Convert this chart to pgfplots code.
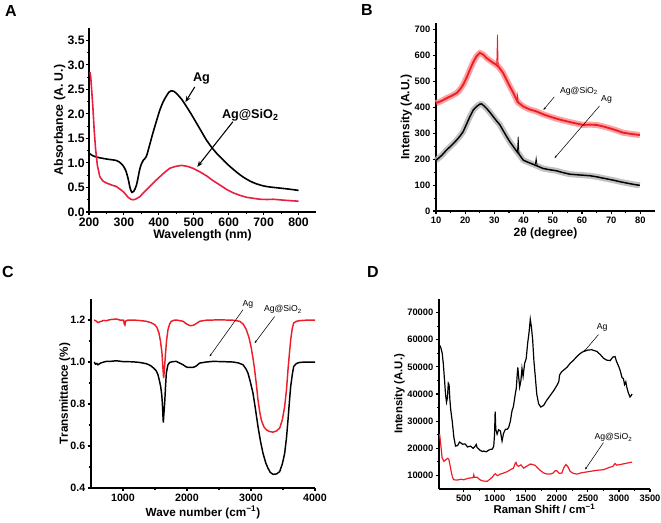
\documentclass[border=0pt]{standalone}
\usepackage{fontspec}
\setmainfont{Liberation Sans}
\usepackage{pgfplots}
\pgfplotsset{compat=1.18}
\usetikzlibrary{arrows.meta}
\definecolor{redA}{RGB}{232,32,64}
\definecolor{redB}{RGB}{238,30,40}
\pgfplotsset{
  panel/.style={
    scale only axis,
    axis x line*=bottom, axis y line*=left,
    axis line style={line width=1pt,-},
    tick align=outside,
    major tick length=2.6pt, minor tick length=1.6pt,
    tick style={line width=0.8pt,black},
    minor x tick num=1, minor y tick num=1,
    enlargelimits=false, clip=false,
    scaled x ticks=false, scaled y ticks=false,
    /pgf/number format/assume math mode=true,
    /pgf/number format/1000 sep={},
    every tick label/.append style={inner sep=1.5pt},
  },
}
\newcommand{\fs}[1]{\fontsize{#1}{#1}\selectfont}
\begin{document}
\begin{tikzpicture}
\path[use as bounding box] (0,0) rectangle (495.75pt,-391.5pt);
% ---------------- A
\begin{axis}[panel, at={(66.75pt,-159pt)}, anchor=south west,
  width=170.25pt, height=138pt,
  xmin=200, xmax=850, ymin=0, ymax=3.75,
  xtick={200,300,...,800}, ytick={0,0.5,1,1.5,2,2.5,3,3.5},
  yticklabel style={inner sep=0.5pt,/pgf/number format/fixed,/pgf/number format/fixed zerofill,/pgf/number format/precision=1},
  ticklabel style={font=\bfseries\fs{9.2pt}},
  label style={font=\bfseries\fs{9.2pt}},
  xlabel={Wavelength (nm)}, ylabel={Absorbance (A. U.)},
  xlabel style={yshift=3pt}, ylabel style={yshift=-2.5pt}]
\addplot[black, line width=1.2pt, smooth] coordinates {
(200,1.20)(210,1.15)(221,1.12)(250,1.08)(278,1.05)(290,1.00)(297,0.95)(305,0.85)(312,0.68)(318,0.48)(323,0.40)(328,0.42)(336,0.55)(345,0.86)(350,0.98)(355,1.05)(364,1.13)(373,1.35)(383,1.61)(393,1.85)(403,2.08)(412,2.24)(422,2.37)(430,2.45)(436,2.47)(443,2.46)(450,2.42)(465,2.30)(479,2.15)(494,1.98)(508,1.81)(522,1.64)(536,1.47)(550,1.33)(565,1.20)(580,1.09)(594,0.99)(613,0.87)(632,0.76)(651,0.67)(670,0.60)(690,0.55)(708,0.52)(730,0.50)(756,0.48)(780,0.46)(800,0.44)};
\addplot[redA, line width=1.2pt] coordinates {
(203,2.85)(205,2.75)(208,2.45)(211,2.15)(215,1.65)(219,1.27)(224,0.95)(231,0.72)(240,0.63)(250,0.59)(265,0.55)(278,0.52)(290,0.46)(297,0.42)(305,0.36)(312,0.30)(320,0.26)(326,0.25)(333,0.26)(345,0.31)(360,0.42)(374,0.52)(388,0.62)(403,0.72)(417,0.81)(431,0.89)(448,0.93)(465,0.95)(482,0.93)(498,0.89)(517,0.82)(536,0.74)(555,0.64)(575,0.55)(594,0.46)(613,0.39)(632,0.34)(651,0.30)(670,0.28)(689,0.26)(710,0.255)(727,0.26)(760,0.24)(800,0.22)};
\node[font=\bfseries\fs{9.5pt}] at (axis cs:522,2.72) {Ag};
\draw[-{Stealth[length=4.5pt,width=3.5pt]}, line width=0.8pt] (axis cs:503,2.55) -- (axis cs:476,2.24);
\node[font=\bfseries\fs{9.5pt}] at (axis cs:662,1.98) {Ag@SiO\textsubscript{2}};
\draw[-{Stealth[length=4.5pt,width=3.5pt]}, line width=0.8pt] (axis cs:612,1.84) -- (axis cs:510,0.92);
\end{axis}
% ---------------- B
\begin{axis}[panel, at={(327pt,-158.25pt)}, anchor=south west,
  width=164.25pt, height=141pt,
  xmin=10, xmax=85, ymin=0, ymax=725,
  xtick={10,20,...,80}, ytick={0,100,...,700},
  ticklabel style={font=\bfseries\fs{7pt}},
  label style={font=\bfseries\fs{9pt}},
  xlabel={2θ (degree)}, ylabel={Intensity (A.U.)},
  xlabel style={yshift=2pt}, ylabel style={yshift=-3pt}]
\addplot[red!45, line width=4.5pt, opacity=0.8, line join=round] table {
x y
10 416
12 425
13.6 435
15.5 445
17.1 455
18.3 470
19.3 487
20.5 515
21.6 545
22.8 575
23.9 597
25.0 610
26.2 603
27.3 590
28.5 580
29.6 571
30.5 565
31.5 555
33.0 532
34.2 505
35.3 480
36.5 455
37.6 429
38.0 420
39.9 403
42 392
44.4 384
46.7 373
49.0 364
51.3 356
53.6 349
57 340
60.4 332
62.7 333
65.0 332
67.3 326
69.5 319
71.8 311
74.1 302
77 297
79.8 293
};
\addplot[redB, line width=1.4pt] table {
x y
10 416
12 425
13.6 435
15.5 445
17.1 455
18.3 470
19.3 487
20.5 515
21.6 545
22.8 575
23.9 597
25.0 610
26.2 603
27.3 590
28.5 580
29.6 571
30.5 565
31.5 555
33.0 532
34.2 505
35.3 480
36.5 455
37.6 429
38.0 420
39.9 403
42 392
44.4 384
46.7 373
49.0 364
51.3 356
53.6 349
57 340
60.4 332
62.7 333
65.0 332
67.3 326
69.5 319
71.8 311
74.1 302
77 297
79.8 293
};
\addplot[redB, line width=0.6pt] coordinates {(30.8,562)(31.05,680)(31.3,558)};
\addplot[redB, line width=0.6pt] coordinates {(37.7,428)(37.9,445)(38.1,420)};
\addplot[gray!60, line width=4.5pt, opacity=0.8, line join=round] table {
x y
10 195
12 215
13.6 235
15.5 255
17.1 274
18.3 290
19.3 306
20.5 336
21.6 364
22.8 390
23.9 403
25.0 412
25.6 413
26.5 405
27.3 396
28.5 380
29.6 364
30.7 348
31.9 332
33.0 310
34.2 287
35.3 267
36.5 248
37.5 232
38.5 218
39.9 196
41.5 188
43.3 180
45 172
46.7 164
49 159
51.3 155
53.5 148
55.8 142
58 140
60.4 138
62.7 136
65.0 132
67.5 126
70.7 119
73 113
75.2 108
77.5 103
79.8 99
};
\addplot[black, line width=1.1pt] table {
x y
10 195
12 215
13.6 235
15.5 255
17.1 274
18.3 290
19.3 306
20.5 336
21.6 364
22.8 390
23.9 403
25.0 412
25.6 413
26.5 405
27.3 396
28.5 380
29.6 364
30.7 348
31.9 332
33.0 310
34.2 287
35.3 267
36.5 248
37.5 232
38.5 218
39.9 196
41.5 188
43.3 180
45 172
46.7 164
49 159
51.3 155
53.5 148
55.8 142
58 140
60.4 138
62.7 136
65.0 132
67.5 126
70.7 119
73 113
75.2 108
77.5 103
79.8 99
};
\addplot[black, line width=0.6pt] coordinates {(37.9,228)(38.15,287)(38.4,220)};
\addplot[black, line width=0.6pt] coordinates {(44.0,180)(44.3,203)(44.6,176)};
\node[font=\fs{6.5pt}] at (axis cs:59,462) {Ag@SiO\textsubscript{2}};
\draw[-{Stealth[length=2pt,width=1.6pt]}, line width=0.4pt] (axis cs:50.5,440) -- (axis cs:46.8,390);
\node[font=\fs{6.5pt}] at (axis cs:68.4,432) {Ag};
\draw[-{Stealth[length=2pt,width=1.6pt]}, line width=0.4pt] (axis cs:66,405) -- (axis cs:50.6,204);
\end{axis}
% ---------------- C
\begin{axis}[panel, at={(68.25pt,-366pt)}, anchor=south west,
  width=168pt, height=141.75pt,
  xmin=500, xmax=4000, ymin=0.4, ymax=1.3,
  xtick={1000,2000,3000,4000}, ytick={0.4,0.6,0.8,1.0,1.2},
  yticklabel style={/pgf/number format/fixed,/pgf/number format/fixed zerofill,/pgf/number format/precision=1},
  ticklabel style={font=\bfseries\fs{8pt}},
  label style={font=\bfseries\fs{8.8pt}},
  xlabel={Wave number (cm\textsuperscript{−1})}, ylabel={Transmittance (\%)},
  xlabel style={yshift=2pt}, ylabel style={yshift=-5pt}]
\addplot[redB, line width=1.1pt] coordinates {
(550,1.200)(580,1.195)(609,1.188)(640,1.192)(700,1.198)(740,1.197)(800,1.202)(896,1.205)(950,1.200)(1010,1.199)(1020,1.180)(1030,1.176)(1040,1.195)(1080,1.200)(1156,1.200)(1250,1.198)(1365,1.194)(1440,1.187)(1495,1.178)(1530,1.165)(1562,1.138)(1585,1.100)(1609,1.043)(1622,0.98)(1635,0.923)(1648,0.97)(1661,1.027)(1680,1.10)(1703,1.154)(1730,1.182)(1755,1.194)(1800,1.199)(1833,1.200)(1938,1.194)(1990,1.182)(2050,1.173)(2100,1.175)(2150,1.184)(2198,1.194)(2300,1.199)(2406,1.200)(2500,1.201)(2615,1.200)(2720,1.199)(2823,1.194)(2880,1.180)(2927,1.154)(2970,1.115)(3005,1.066)(3035,1.010)(3057,0.963)(3085,0.89)(3109,0.82)(3135,0.765)(3161,0.724)(3200,0.692)(3240,0.677)(3290,0.669)(3344,0.666)(3400,0.672)(3448,0.685)(3490,0.725)(3526,0.788)(3555,0.87)(3578,0.963)(3600,1.04)(3620,1.106)(3645,1.16)(3667,1.186)(3710,1.194)(3760,1.197)(3850,1.199)(4000,1.200)};
\addplot[black, line width=1.1pt] coordinates {
(550,1.000)(570,0.990)(590,0.993)(609,0.987)(650,0.995)(700,1.000)(740,1.003)(800,1.003)(896,1.006)(1000,1.002)(1156,1.001)(1260,0.998)(1365,0.992)(1430,0.983)(1479,0.971)(1520,0.958)(1547,0.939)(1570,0.910)(1589,0.883)(1605,0.845)(1615,0.804)(1623,0.75)(1630,0.712)(1638,0.75)(1651,0.804)(1664,0.88)(1677,0.947)(1700,0.985)(1729,0.998)(1780,1.002)(1833,1.003)(1938,0.987)(1980,0.978)(2016,0.974)(2100,0.975)(2140,0.980)(2198,0.995)(2300,1.000)(2406,1.003)(2550,1.002)(2719,1.000)(2800,0.996)(2875,0.987)(2920,0.968)(2953,0.947)(2990,0.905)(3031,0.852)(3070,0.775)(3109,0.693)(3150,0.62)(3188,0.565)(3230,0.52)(3266,0.494)(3300,0.475)(3344,0.465)(3400,0.467)(3448,0.478)(3490,0.515)(3526,0.565)(3555,0.64)(3578,0.724)(3600,0.81)(3620,0.883)(3645,0.94)(3667,0.979)(3710,0.993)(3760,0.998)(3850,1.000)(4000,1.000)};
\node[font=\fs{6.5pt}] at (axis cs:2950,1.273) {Ag};
\draw[-{Stealth[length=2pt,width=1.6pt]}, line width=0.4pt] (axis cs:2875,1.249) -- (axis cs:2354,1.027);
\node[font=\fs{6.5pt}] at (axis cs:3500,1.249) {Ag@SiO\textsubscript{2}};
\draw[-{Stealth[length=2pt,width=1.6pt]}, line width=0.4pt] (axis cs:3370,1.217) -- (axis cs:3057,1.09);
\end{axis}
% ---------------- D
\begin{axis}[panel, at={(329.25pt,-366.75pt)}, anchor=south west,
  width=158.25pt, height=142.5pt,
  xmin=100, xmax=3500, ymin=5000, ymax=75000,
  xtick={500,1000,...,3500}, ytick={10000,20000,...,70000},
  ticklabel style={font=\bfseries\fs{7pt}},
  label style={font=\bfseries\fs{8.5pt}},
  xlabel={Raman Shift / cm\textsuperscript{−1}}, ylabel={Intensity (A.U.)},
  xlabel style={yshift=3pt}, ylabel style={yshift=-3pt}]
\addplot[black, line width=0.9pt] coordinates {
(110,58000)(130,57000)(152,55000)(170,51000)(189,45100)(205,40000)(221,37000)(235,38500)(250,44000)(262,43500)(275,38000)(290,34000)(312,30200)(340,24000)(366,20800)(400,21000)(430,22300)(446,22100)(480,21500)(520,21600)(560,20500)(607,20800)(650,20000)(680,20700)(700,21400)(714,20300)(760,19300)(800,18800)(821,19000)(860,18700)(900,19300)(928,19600)(960,19700)(982,20800)(995,25000)(1005,33500)(1015,27000)(1036,25200)(1060,26800)(1089,26400)(1116,22700)(1140,25500)(1170,27000)(1200,27000)(1223,27700)(1250,30000)(1277,33900)(1300,35500)(1330,40100)(1345,42000)(1360,47000)(1370,49800)(1385,46000)(1400,42600)(1420,45000)(1437,49400)(1455,46500)(1480,51300)(1505,53000)(1529,58800)(1550,62500)(1571,67500)(1590,64500)(1609,60000)(1630,52000)(1652,46300)(1675,40000)(1705,36400)(1740,35200)(1786,35800)(1830,37500)(1893,39500)(1950,41300)(2000,43200)(2030,44500)(2043,47000)(2070,48000)(2107,48800)(2160,49800)(2214,51300)(2270,52500)(2321,53800)(2380,55000)(2428,55700)(2500,56200)(2563,56300)(2600,56000)(2643,55700)(2700,54500)(2750,53200)(2800,52500)(2857,52300)(2900,53600)(2937,53800)(2960,52000)(2990,50500)(3018,48800)(3050,46000)(3071,45700)(3090,43500)(3110,44500)(3125,42600)(3150,40500)(3178,38900)(3200,39500)(3210,40000)};
\addplot[redB, line width=0.9pt] coordinates {
(110,25200)(130,21000)(150,16500)(179,15200)(210,15800)(240,16300)(259,15900)(280,13500)(300,11000)(320,9200)(339,8400)(400,8300)(450,8600)(500,8400)(560,8900)(620,9100)(650,9200)(660,10200)(670,9300)(714,9300)(760,8400)(800,8000)(875,7800)(920,8600)(960,9400)(990,10300)(1009,10600)(1040,9900)(1080,10400)(1143,10900)(1200,11400)(1250,12100)(1300,12700)(1330,14600)(1341,14800)(1360,13600)(1384,13400)(1420,13900)(1464,12700)(1520,13500)(1571,14200)(1610,14000)(1652,13700)(1700,12500)(1750,11500)(1786,10900)(1840,10500)(1893,10500)(1940,10900)(1975,11800)(2000,11700)(2040,10700)(2080,10900)(2110,12800)(2144,14000)(2175,13300)(2214,11500)(2260,10800)(2321,10500)(2400,11000)(2536,11500)(2650,11900)(2750,12100)(2850,13000)(2900,13300)(2937,14400)(2960,13800)(3018,14000)(3100,14400)(3210,14900)};
\node[font=\fs{6.5pt}] at (axis cs:2730,64400) {Ag};
\draw[-{Stealth[length=2pt,width=1.6pt]}, line width=0.4pt] (axis cs:2670,61900) -- (axis cs:2428,55400);
\node[font=\fs{6.5pt}] at (axis cs:2911,23900) {Ag@SiO\textsubscript{2}};
\draw[-{Stealth[length=2pt,width=1.6pt]}, line width=0.4pt] (axis cs:2750,22100) -- (axis cs:2455,12200);
\end{axis}
% panel letters
\node[font=\bfseries\fs{12pt}] at (8.25pt,-8.25pt) {A};
\node[font=\bfseries\fs{12pt}] at (275.25pt,-7.5pt) {B};
\node[font=\bfseries\fs{12pt}] at (6pt,-204pt) {C};
\node[font=\bfseries\fs{12pt}] at (279.75pt,-204pt) {D};
\end{tikzpicture}
\end{document}
